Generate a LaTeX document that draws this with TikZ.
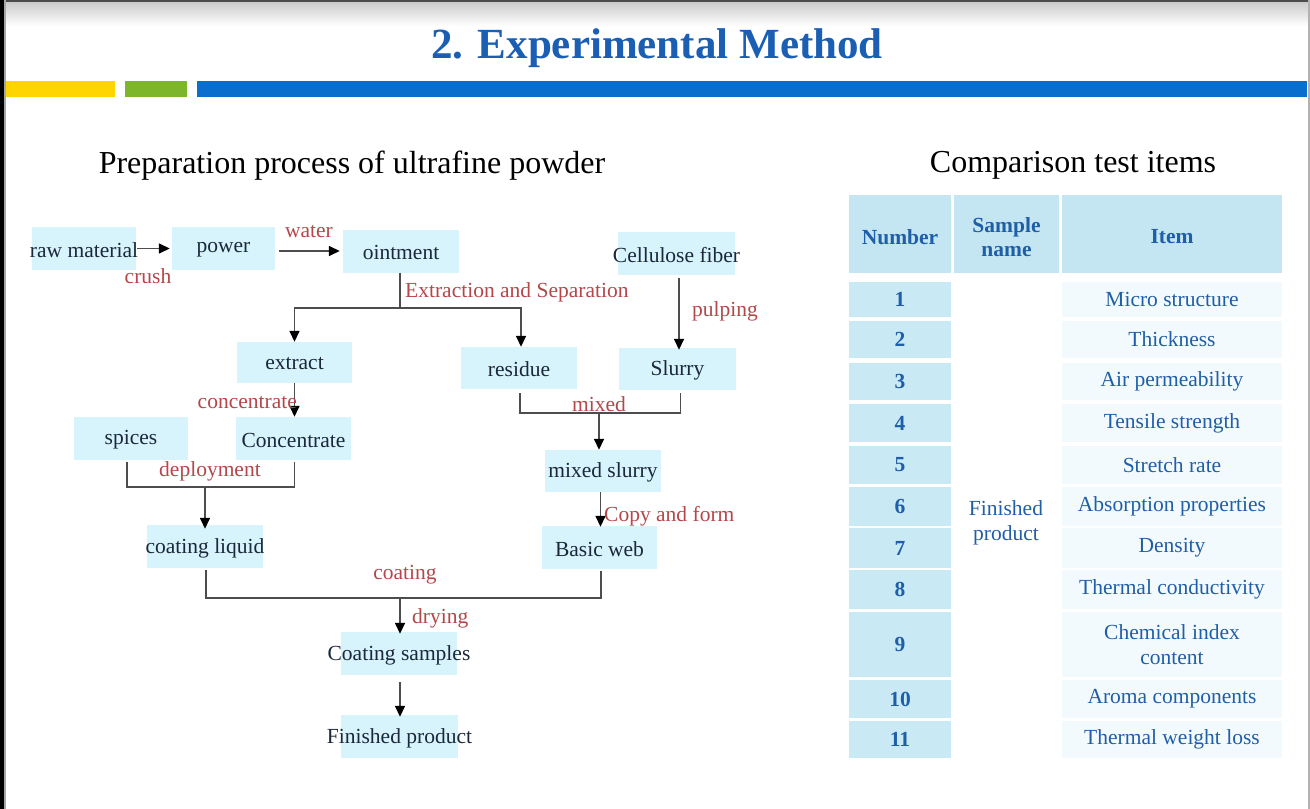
\documentclass[tikz,border=0pt]{standalone}
\usepackage{fontspec}
\setmainfont{Liberation Serif}
\usetikzlibrary{arrows.meta,positioning}
\definecolor{boxfill}{HTML}{D7F3FB}
\definecolor{flowtext}{HTML}{1B2838}
\definecolor{labelred}{HTML}{B5474B}
\definecolor{linegray}{HTML}{4D4D4D}
\definecolor{tblhead}{HTML}{C3E6F2}
\definecolor{tblnum}{HTML}{C9EAF5}
\definecolor{tblitem}{HTML}{F3FAFD}
\definecolor{tbltext}{HTML}{1F5EA8}
\definecolor{titleblue}{HTML}{1A5FB4}
\definecolor{baryellow}{HTML}{FFD500}
\definecolor{bargreen}{HTML}{7DB62A}
\definecolor{barblue}{HTML}{0A6FCC}
\newcommand{\txtsize}{\fontsize{21.5}{25}\selectfont}
\tikzset{
  flowbox/.style={fill=boxfill, inner sep=0pt, minimum height=43pt,
    label={[font=\txtsize, text=flowtext, yshift=-1.5pt]center:#1}},
  steplabel/.style={font=\txtsize, text=labelred, inner sep=0pt},
  conn/.style={draw=linegray, line width=1.5pt},
  arr/.style={conn, -{Triangle[length=11pt,width=10pt,color=black]}},
  headcell/.style={fill=tblhead, inner sep=0pt, minimum height=78pt,
    label={[font=\txtsize\bfseries, text=tbltext, align=center, yshift=-3pt]center:#1}},
  numcell/.style={fill=tblnum, inner sep=0pt, minimum width=102pt,
    font=\txtsize\bfseries, text=tbltext},
  itemcell/.style={fill=tblitem, inner sep=0pt, minimum width=220pt,
    font=\txtsize, text=tbltext, align=center},
}
\begin{document}
\begin{tikzpicture}[x=1pt,y=-1pt]
\useasboundingbox (0,0) rectangle (1310,809);
\fill[white] (0,0) rectangle (1310,809);
% top band
\shade[top color=black!22, bottom color=white] (0,0) rectangle (1310,26);
\fill[black!70] (0,0) rectangle (1310,2);
\fill[black] (0,0) rectangle (4,809);
\fill[black!35] (4,0) rectangle (5.5,809);
\fill[black!30] (1308,0) rectangle (1310,809);
% title
\node[font=\fontsize{43}{48}\selectfont\bfseries, text=titleblue, anchor=base, inner sep=0pt] (title) at (657,58) {2. Experimental Method};
% bars
\fill[baryellow] (6,81) rectangle (115,97);
\fill[bargreen] (125,81) rectangle (187,97);
\fill[barblue] (197,81) rectangle (1307,97);
% subtitles
\node[font=\fontsize{32}{36}\selectfont, text=black, inner sep=0pt] (sub1) at (352,166) {Preparation process of ultrafine powder};
\node[font=\fontsize{32}{36}\selectfont, text=black, inner sep=0pt] (sub2) at (1073,165) {Comparison test items};

% flow nodes
\node[flowbox={raw material}, minimum width=104pt] (raw) at (84,248.5) {};
\node[flowbox={power}, minimum width=103pt] (power) at (223.5,248.5) {};
\node[flowbox={ointment}, minimum width=116pt] (oint) at (401,251) {};
\node[flowbox={Cellulose fiber}, minimum width=117pt] (cell) at (676.5,253.5) {};
\node[flowbox={extract}, minimum width=115pt, minimum height=41pt] (extract) at (294.5,362.5) {};
\node[flowbox={residue}, minimum width=116pt, minimum height=42pt] (residue) at (519,368) {};
\node[flowbox={Slurry}, minimum width=117pt, minimum height=42pt] (slurry) at (677.5,369) {};
\node[flowbox={spices}, minimum width=114pt] (spices) at (131,438.5) {};
\node[flowbox={Concentrate}, minimum width=115pt] (conc) at (293.5,438.5) {};
\node[flowbox={mixed slurry}, minimum width=116pt, minimum height=42pt] (mixed) at (603,471) {};
\node[flowbox={coating liquid}, minimum width=116pt] (coat) at (205,546.5) {};
\node[flowbox={Basic web}, minimum width=115pt] (basic) at (599.5,547.5) {};
\node[flowbox={Coating samples}, minimum width=116pt] (samples) at (399,653.5) {};
\node[flowbox={Finished product}, minimum width=117pt] (fin) at (399.5,736.5) {};

% junctions
\coordinate (j1) at (400,308);
\coordinate (j2) at (599,413);
\coordinate (j3) at (205,487);
\coordinate (j4) at (400,598);

% connectors
\draw[arr] ([xshift=1pt]raw.east) -- ([xshift=-2pt]power.west);
\draw[arr] ([xshift=4pt]power.east |- oint.west) -- ([xshift=-3pt]oint.west);
\draw[conn] (j1 |- oint.south) -- (j1);
\draw[arr] (j1) -| (extract.north);
\draw[arr] (j1) -| ([xshift=2pt]residue.north);
\draw[arr] ([xshift=2.5pt,yshift=-3pt]cell.south) -- ([xshift=1.5pt,yshift=-2pt]slurry.north);
\draw[arr] (extract.south) -- (extract.south |- conc.north);
\draw[conn] ([xshift=1pt,yshift=-4pt]residue.south) |- (j2) -| ([xshift=3pt,yshift=-3pt]slurry.south);
\draw[arr] (j2) -- (j2 |- mixed.north);
\draw[conn] ([xshift=-4pt,yshift=-2pt]spices.south) |- (j3) -| ([xshift=1pt,yshift=-2pt]conc.south);
\draw[arr] (j3) -- ([yshift=-4pt]coat.north);
\draw[arr] ([xshift=1pt]basic.north |- mixed.south) -- ([xshift=1pt,yshift=-1pt]basic.north);
\draw[conn] ([xshift=1pt,yshift=-2pt]coat.south) |- (j4) -| ([xshift=1.5pt,yshift=-2pt]basic.south);
\draw[arr] (j4) -- ([yshift=-2pt]j4 |- samples.north);
\draw[arr] ([yshift=-7pt]j4 |- samples.south) -- ([yshift=-2pt]j4 |- fin.north);

% step labels
\node[steplabel] (lcrush) at (148,276) {crush};
\node[steplabel] (lwater) at (309,232) {water};
\node[steplabel, anchor=west] (lextr) at (405,292) {Extraction and Separation};
\node[steplabel] (lpulp) at (725,311) {pulping};
\node[steplabel, anchor=east] (lconc) at (297,403) {concentrate};
\node[steplabel] (lmixed) at (599,404) {mixed};
\node[steplabel] (ldeploy) at (210,471) {deployment};
\node[steplabel, anchor=west] (lcopy) at (604,516) {Copy and form};
\node[steplabel] (lcoating) at (405,575) {coating};
\node[steplabel, anchor=west] (ldry) at (412,618) {drying};

% table header
\node[headcell={Number}, minimum width=102pt] (hnum) at (900,234) {};
\node[headcell={Sample\\[-1pt]name}, minimum width=105pt] (hname) at (1006.5,234) {};
\node[headcell={Item}, minimum width=220pt] (hitem) at (1172,234) {};

% table body
\foreach \n/\ya/\yb/\it in {1/281/316/Micro structure, 2/320/357/Thickness, 3/362/399/Air permeability, 4/403/441/Tensile strength, 5/445/483/Stretch rate, 6/486/525/Absorption properties, 7/527/567/Density, 8/569/608/Thermal conductivity, 9/611/676/{Chemical index\\[0pt]content}, 10/679/717/Aroma components, 11/720/757/Thermal weight loss}{
  \node[numcell, minimum height={\yb-\ya}] (n\n) at (900,{(\ya+\yb)/2+1}) {\n};
  \node[itemcell, minimum height={\yb-\ya}] (i\n) at (1172,{(\ya+\yb)/2+1}) {\it};
}
\node[font=\txtsize, text=tbltext, align=center, inner sep=0pt] (fp) at (1006,522.5) {Finished\\[0pt]product};
\end{tikzpicture}
\end{document}
